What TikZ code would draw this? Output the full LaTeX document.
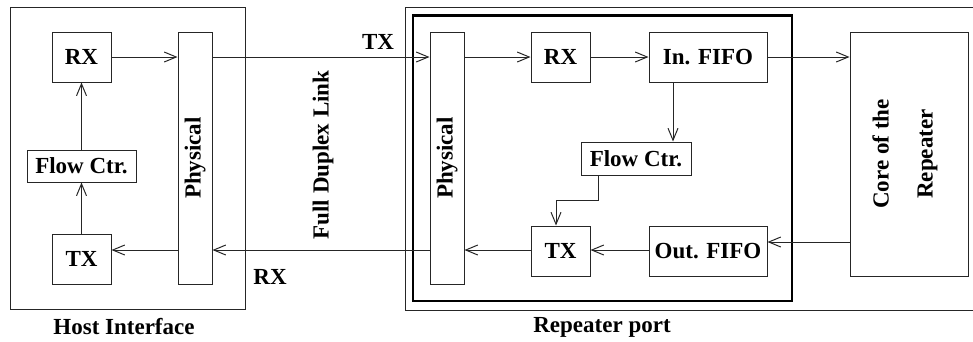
\documentclass[tikz,border=0pt]{standalone}
\usepackage{fontspec}
\setmainfont{Liberation Serif}
\usetikzlibrary{arrows.meta,calc}
\begin{document}
\begin{tikzpicture}[x=1pt,y=-1pt,
  every node/.style={font=\fontsize{23}{27}\selectfont\bfseries},
  box/.style={draw=black!85,line width=1pt,inner sep=0pt,rectangle},
  arr/.style={draw=black!85,line width=1pt,-{Straight Barb[length=12pt,width=10pt,line width=1pt]}},
  ln/.style={draw=black!85,line width=1pt}]
\useasboundingbox (0,0) rectangle (973,341);
\clip (0,0) rectangle (973,341);
% frames
\node[box,minimum width=235pt,minimum height=302pt] (host) at (127.5,158) {};
\node[box,minimum width=585pt,minimum height=303pt] (rep) at (697.5,158.5) {};
\node[draw=black,line width=2.4pt,inner sep=0pt,minimum width=379pt,minimum height=285.5pt] (port) at (602.5,158.25) {};
% host side
\node[box,minimum width=59pt,minimum height=50pt] (lrx) at (81.5,57) {RX};
\node[box,minimum width=109pt,minimum height=32pt] (lflow) at (81.5,166) {Flow Ctr.};
\node[box,minimum width=59pt,minimum height=50pt] (ltx) at (81.5,259) {TX};
\node[box,minimum width=34pt,minimum height=252pt] (lphy) at (195,158) {};
\node[rotate=90] (lphytxt) at (lphy.center) {Physical};
% repeater side
\node[box,minimum width=34pt,minimum height=252pt] (rphy) at (447,158) {};
\node[rotate=90] (rphytxt) at (rphy.center) {Physical};
\node[box,minimum width=59pt,minimum height=50pt] (rrx) at (560.5,57) {RX};
\node[box,minimum width=118pt,minimum height=50pt] (infifo) at (708,57) {In. FIFO};
\node[box,minimum width=110pt,minimum height=33pt] (rflow) at (636,158.5) {Flow Ctr.};
\node[box,minimum width=59pt,minimum height=50pt] (rtx) at (560.5,251) {TX};
\node[box,minimum width=118pt,minimum height=50pt] (outfifo) at (708,251) {Out. FIFO};
\node[box,minimum width=118pt,minimum height=244pt] (core) at (909,154) {};
\node[rotate=90,align=center,font=\fontsize{23}{44}\selectfont\bfseries] (coretxt) at (905,154) {Core of the\\Repeater};
% labels
\node (txl) at (378,42) {TX};
\node (rxl) at (270,277) {RX};
\node[rotate=90] (fdl) at (323,155) {Full Duplex Link};
\node (hostl) at (124,327) {Host Interface};
\node (repl) at (602,327) {Repeater port};
% host connectors
\draw[arr] (lrx.east) -- (lrx.east -| lphy.west);
\draw[arr] (lflow.north) -- (lrx.south);
\draw[arr] (ltx.north) -- (lflow.south);
\draw[arr] (lphy.west |- 0,250) -- (ltx.east |- 0,250);
% link
\draw[arr] (lphy.east |- 0,57) -- (rphy.west |- 0,57);
\draw[arr] (rphy.west |- 0,250) -- (lphy.east |- 0,250);
% repeater connectors
\draw[arr] (rphy.east |- 0,57) -- (rrx.west);
\draw[arr] (rrx.east) -- (infifo.west);
\draw[arr] (infifo.east) -- (core.west |- infifo.east);
\draw[arr] (infifo.south -| 673,0) -- (rflow.north -| 673,0);
\draw[arr] (rflow.south -| 598,0) -- (598,200) -- (556,200) -- (rtx.north -| 556,0);
\draw[arr] (core.west |- 0,242) -- (outfifo.east |- 0,242);
\draw[arr] (outfifo.west |- 0,250) -- (rtx.east |- 0,250);
\draw[arr] (rtx.west |- 0,250) -- (rphy.east |- 0,250);
\end{tikzpicture}
\end{document}
